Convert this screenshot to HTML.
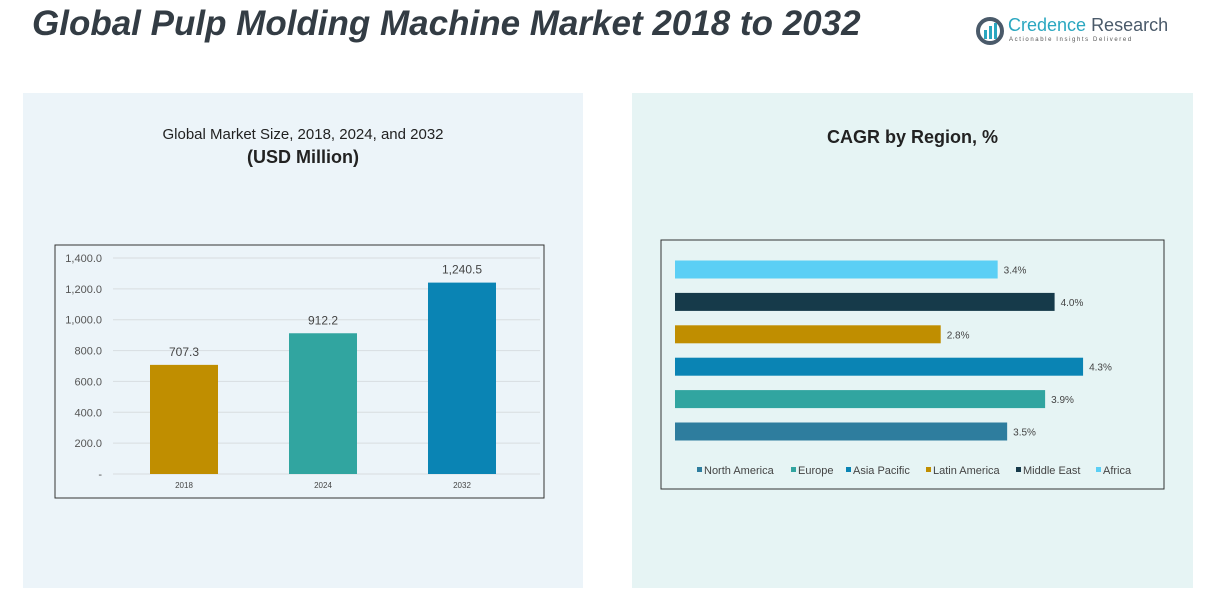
<!DOCTYPE html>
<html><head><meta charset="utf-8">
<style>
body{margin:0;width:1222px;height:612px;background:#fff;font-family:"Liberation Sans",sans-serif;position:relative;overflow:hidden}
.abs{position:absolute}
</style></head><body>
<div class="abs" style="left:32px;top:4px;font-size:35px;font-weight:bold;font-style:italic;color:#333c44">Global Pulp Molding Machine Market 2018 to 2032</div>
<div class="abs" style="left:975px;top:14px;width:200px;height:34px">
<svg width="30" height="30" style="position:absolute;left:0;top:2px"><circle cx="15" cy="15" r="12" fill="none" stroke="#4a5a6a" stroke-width="4"/><rect x="9" y="14" width="3" height="9" fill="#2aa7c0"/><rect x="14" y="10" width="3" height="13" fill="#2aa7c0"/><rect x="19" y="7" width="3" height="16" fill="#2aa7c0"/></svg>
<div class="abs" style="left:33px;top:1px;font-size:18px;color:#2aa7c0;white-space:nowrap">Credence <span style="color:#4a5a6a">Research</span></div>
<div class="abs" style="left:34px;top:23px;font-size:6px;letter-spacing:1.6px;color:#555;white-space:nowrap">Actionable Insights Delivered</div>
</div>
<div class="abs" style="left:23px;top:93px;width:560px;height:495px;background:#ecf4f9"></div>
<div class="abs" style="left:632px;top:93px;width:561px;height:495px;background:#e6f4f4"></div>
<div class="abs" style="left:23px;top:126px;width:560px;text-align:center;font-size:15px;color:#222">Global Market Size, 2018, 2024, and 2032</div>
<div class="abs" style="left:23px;top:147px;width:560px;text-align:center;font-size:18px;font-weight:bold;color:#222">(USD Million)</div>
<div class="abs" style="top:127px;text-align:center;font-size:18px;font-weight:bold;color:#222;width:745px;left:540px">CAGR by Region, %</div>
<svg class="abs" style="left:0;top:0" width="1222" height="612" id="svg"></svg>
<script>
const years=["2018","2024","2032"];
const sizes=[707.3,912.2,1240.5];
const yTicks=[0,200,400,600,800,1000,1200,1400];
const yTickLabels=["-","200.0","400.0","600.0","800.0","1,000.0","1,200.0","1,400.0"];
const regions=["North America","Europe","Asia Pacific","Latin America","Middle East","Africa"];
const cagr=[3.5,3.9,4.3,2.8,4.0,3.4];
const colors=["#2e7d9e","#31a5a0","#0a84b4","#c08e00","#163a4a","#5bcff5"];
const barColors=["#c08e00","#31a5a0","#0a84b4"];
const svg=document.getElementById('svg');
const NS="http://www.w3.org/2000/svg";
function mk(t,a,txt){const e=document.createElementNS(NS,t);for(const k in a)e.setAttribute(k,a[k]);if(txt!=null)e.textContent=txt;svg.appendChild(e);return e;}
let f=mk('rect',{x:55,y:245,width:489,height:253,fill:'none',stroke:'#333','stroke-width':1});

const y=v=>474-v*216/1400;
yTicks.forEach((t,i)=>{
 let g=mk('line',{x1:113,x2:540,y1:y(t),y2:y(t),stroke:'#d8dde0','stroke-width':1});
 
 let l=mk('text',{x:102,y:y(t)+4,'text-anchor':'end','font-size':11,fill:'#555','font-family':'Liberation Sans'},yTickLabels[i]);
 
});
const x=i=>184+i*139;
years.forEach((yr,i)=>{
 let b=mk('rect',{x:x(i)-34,y:y(sizes[i]),width:68,height:474-y(sizes[i]),fill:barColors[i]});
 
 let v=mk('text',{x:x(i),y:y(sizes[i])-9,'text-anchor':'middle','font-size':12,fill:'#444','font-family':'Liberation Sans'},sizes[i].toLocaleString('en-US',{minimumFractionDigits:1}));
 
 let c=mk('text',{x:x(i),y:488,'text-anchor':'middle','font-size':8,fill:'#444','font-family':'Liberation Sans'},yr);
 
});
let f2=mk('rect',{x:661,y:240,width:503,height:249,fill:'none',stroke:'#333','stroke-width':1});

const bx=v=>675+v*94.9;
const by=i=>431.5-i*32.4;
regions.forEach((r,i)=>{
 let b=mk('rect',{x:675,y:by(i)-9,width:bx(cagr[i])-675,height:18,fill:colors[i]});
 
 let t=mk('text',{x:bx(cagr[i])+6,y:by(i)+4,'font-size':10,fill:'#444','font-family':'Liberation Sans'},cagr[i].toFixed(1)+'%');
 
});
const legX=[697,791,846,926,1016,1096];
regions.forEach((r,i)=>{
 let s=mk('rect',{x:legX[i],y:467,width:5,height:5,fill:colors[i]});
 
 let t=mk('text',{x:legX[i]+7,y:474,'font-size':11,fill:'#444','font-family':'Liberation Sans'},r);
 
});
</script>
</body></html>
